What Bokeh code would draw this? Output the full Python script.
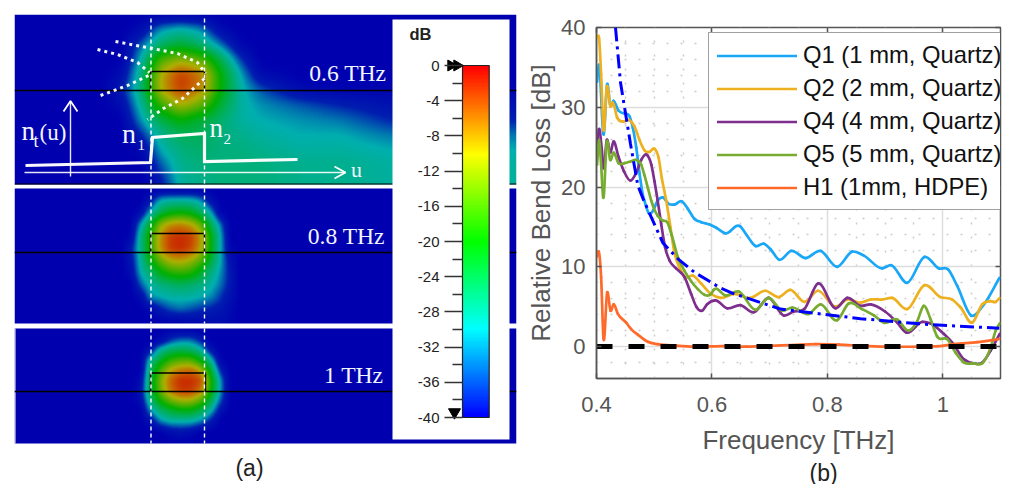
import numpy as np
from bokeh.embed import file_html
from bokeh.resources import INLINE
from bokeh.plotting import figure
from bokeh.core.properties import value
from bokeh.models import (Range1d, LinearAxis, FixedTicker, LinearColorMapper,
                          Legend, LegendItem, Title)

# ---------------- data: panel (b) ----------------
legend_labels = ["Q1 (1 mm, Quartz)", "Q2 (2 mm, Quartz)", "Q4 (4 mm, Quartz)",
                 "Q5 (5 mm, Quartz)", "H1 (1mm, HDPE)"]
colors = ["#1AA7F7", "#EDB120", "#7E2F8E", "#77AC30", "#FF6A2B"]

q1_f = [.401,.404,.4126,.4185,.4237,.4295,.438,.4485,.457,.463,.469,.475,.4803,.483,.4907,.4976,.506,.5149,.5248,.535,.548,.558,.570,.5814,.596,.6074,.6236,.6485,.661,.6756,.690,.7015,.716,.7374,.7622,.788,.817,.843,.8633,.895,.9107,.9385,.9685,.9933,1.009,1.025,1.049,1.0713,1.098]
q1_db = [33.2,35.3,26.6,32.9,30.3,30.8,29.6,29.2,28.9,27.4,24.9,21.5,19.0,18.3,16.7,17,18.3,18.7,17.9,17.8,18.2,17.3,16,15.6,15.3,14.9,14.2,15.1,13.9,12.6,12.9,12.2,10.9,12,11.1,12,10,11.9,11.4,9.8,10.2,8.0,11.25,9.8,9.7,7.6,3.9,5.3,8.6]
q2_f = [.401,.4045,.408,.4121,.4179,.4243,.4283,.4358,.4456,.457,.4658,.4745,.4832,.492,.5005,.5075,.5132,.5208,.5283,.535,.544,.5537,.567,.5814,.5976,.6147,.638,.6667,.6927,.716,.736,.7603,.7836,.8143,.8345,.8575,.875,.895,.9124,.9385,.9685,.996,1.0164,1.031,1.051,1.0685,1.083,1.0916,1.0986]
q2_db = [38.8,38.6,34.1,27.2,32.6,30.1,30.6,28.7,28.2,28.4,27.6,25.9,24.6,24.4,24.8,23.7,21.1,18.3,14.9,11.8,9.9,8.7,8.9,7.9,6.65,6.1,6.6,6.1,7,6.2,7.1,5.6,7,5,5.9,5.5,5.9,5.9,6.1,4.7,7.7,6.2,5.9,4.9,3,5.3,5.7,5.6,6.1]
q4_f = [.401,.404,.4092,.4121,.4179,.4237,.4295,.438,.4474,.459,.469,.4775,.488,.495,.5005,.506,.512,.519,.5265,.538,.5525,.564,.573,.583,.5916,.606,.6262,.6495,.6725,.6985,.7245,.742,.76,.7836,.8143,.8345,.8575,.875,.90,.921,.936,.9645,.979,1.0016,1.0164,1.0367,1.054,1.0685,1.083,1.0986]
q4_db = [24.9,27.2,24.7,22.4,25.9,24.3,25.7,23.8,22,20.8,21.8,23.4,24,22.8,20.7,18.3,15.4,12.4,10.8,9.8,8.7,6.6,5,4.5,5.3,5.8,4.8,5.2,4.3,6.1,3.9,4.4,4.7,7.9,4.8,6.1,5.1,5.3,4.4,3,1.8,3.1,2.9,1.6,.5,-1.6,-2.1,-2,-.5,1.6]
q5_f = [.401,.4045,.408,.4116,.4179,.4237,.4295,.438,.4485,.459,.469,.4775,.483,.4890,.4948,.506,.515,.5225,.5306,.541,.5525,.564,.5756,.587,.5987,.603,.6236,.6467,.6756,.6985,.7216,.739,.768,.788,.817,.837,.860,.8807,.8978,.921,.941,.9558,.967,.979,.990,1.008,1.0225,1.0367,1.054,1.0685,1.083,1.0916,1.0986]
q5_db = [22.8,25.9,22.8,18.7,25.7,23.4,24.3,23,23,23.2,23.4,22.8,21.5,19.9,18.3,16.4,15.8,15.6,13.9,11.2,9.5,8.2,7.2,6.5,6.6,7.1,6.4,6.9,4.6,6.1,4.5,4.9,4.1,5.3,3.3,5.4,4.7,3.9,3,3.4,2,3.2,5.1,3.4,1.3,.9,-.8,-2,-2.1,-2.1,-.1,2,2.9]
h1_f = [.401,.404,.408,.412,.4185,.4243,.4295,.437,.4514,.46,.4716,.489,.506,.541,.570,.6207,.66,.7,.74,.78,.82,.86,.9,.96,1.0,1.02,1.06,1.098]
h1_db = [11.3,11.9,8.7,1.1,6.8,4.5,5.3,4.1,3,2.2,1.5,.6,.3,.1,0,.05,0,.1,.2,.3,.25,.1,0,0,.1,.3,.55,.95]
fit_f = [.4329,.4416,.4589,.4716,.482,.515,.541,.570,.616,.637,.719,.8575,.9685,1.098]
fit_db = [40,33.1,25.4,20.2,18.3,13,11,9.3,7.3,6.65,4.7,3.5,2.8,2.3]
zero_f = [.4, 1.1]
zero_db = [0, 0]

x_ticks = [.4, .6, .8, 1.0]
x_tick_labels = ["0.4", "0.6", "0.8", "1"]
x_minor = [.45, .5, .55, .65, .7, .75, .85, .9, .95, 1.05]
y_ticks = [0, 10, 20, 30, 40]
y_minor = [-2, 2, 4, 6, 8, 12, 14, 16, 18, 22, 24, 26, 28, 32, 34, 36, 38]

# ---------------- data: panel (a) colour scale ----------------
db_ticks = [0, -4, -8, -12, -16, -20, -24, -28, -32, -36, -40]
db_minor = [-2, -6, -10, -14, -18, -22, -26, -30, -34, -38]
db_stops = [-40, -30, -20, -10, 0]
bright_rgb = [(0, 0, 255), (0, 255, 255), (0, 255, 0), (255, 255, 0), (255, 0, 0)]
field_stops = [-40, -35, -30, -20, -10, -5, 0]
field_rgb = [(0, 0, 175), (0, 30, 175), (0, 175, 175), (0, 175, 0), (175, 175, 0), (200, 100, 0), (200, 30, 0)]

# ---------------- data: panel (a) mode maps, dB ----------------
m1_x = [100,120,140,160,180,200,220,240,260,300,340,392]
m1_y = [14,29,44,59,74,89,104,119,134,149,164,183]
m1_db = [
 [-40,-40,-40,-40,-40,-40,-40,-40,-40,-40,-40,-40],
 [-40,-40,-38,-31,-29,-31,-38,-40,-40,-40,-40,-40],
 [-40,-40,-33,-26,-23,-26,-32,-39,-40,-40,-40,-40],
 [-40,-40,-30,-16,-12,-15,-24,-34,-40,-40,-40,-40],
 [-40,-38,-28,-10, -2, -6,-20,-30,-38,-40,-40,-40],
 [-40,-36,-27,-10, -2, -7,-20,-29,-33,-38,-39,-39],
 [-40,-38,-29,-17,-10,-14,-23,-29,-31,-33,-35,-37],
 [-40,-40,-31,-24,-20,-23,-26,-29,-30,-31,-32,-35],
 [-40,-40,-35,-28,-25,-25,-27,-28,-29,-30,-30,-32],
 [-40,-40,-39,-30,-27,-26,-27,-27,-28,-29,-29,-30],
 [-40,-40,-40,-33,-28,-27,-27,-27,-27,-28,-28,-29],
 [-40,-40,-40,-36,-29,-28,-27,-27,-27,-28,-28,-29],
]
m2_x = [130,140,150,160,170,180,190,200,210,220,230,240]
m2_y = [188,200,212,224,236,248,260,272,284,296,308,323]
m2_db = [
 [-40,-40,-40,-40,-40,-40,-40,-40,-40,-40,-40,-40],
 [-40,-40,-36,-30,-29,-29,-29,-31,-37,-40,-40,-40],
 [-40,-38,-30,-24,-21,-20,-21,-25,-30,-39,-40,-40],
 [-40,-31,-22,-12, -8, -7, -9,-14,-24,-32,-40,-40],
 [-39,-28,-18, -8, -2, -1, -2, -8,-20,-30,-40,-40],
 [-36,-28,-18, -8, -2, -1, -3, -9,-20,-30,-39,-40],
 [-37,-29,-21,-14,-10, -9,-11,-15,-23,-30,-37,-40],
 [-38,-30,-26,-21,-18,-17,-18,-22,-27,-31,-36,-40],
 [-40,-33,-29,-27,-26,-25,-26,-27,-29,-32,-36,-40],
 [-40,-38,-31,-30,-29,-29,-29,-30,-31,-34,-37,-40],
 [-40,-40,-38,-35,-33,-32,-33,-34,-35,-36,-38,-40],
 [-40,-40,-40,-40,-40,-40,-39,-39,-38,-38,-39,-40],
]
m3_x = [140,150,160,170,180,190,200,210,220,230]
m3_y = [328,340,350,360,370,380,390,400,410,420,432,443]
m3_db = [
 [-40,-40,-40,-40,-40,-40,-40,-40,-40,-40],
 [-40,-40,-38,-34,-32,-32,-35,-40,-40,-40],
 [-40,-36,-28,-25,-24,-25,-28,-36,-40,-40],
 [-40,-28,-22,-17,-15,-15,-20,-28,-39,-40],
 [-40,-25,-16, -9, -6, -5, -9,-22,-35,-40],
 [-38,-24,-13, -5, -1, -1, -3,-18,-31,-40],
 [-37,-24,-14, -6, -2, -2, -6,-19,-31,-40],
 [-38,-27,-19,-14,-11,-11,-15,-24,-33,-40],
 [-40,-31,-26,-23,-21,-21,-24,-29,-37,-40],
 [-40,-37,-31,-29,-29,-29,-31,-35,-40,-40],
 [-40,-40,-40,-38,-37,-38,-40,-40,-40,-40],
 [-40,-40,-40,-40,-40,-40,-40,-40,-40,-40],
]
panels = [("0.6 THz", 14, 184, m1_x, m1_y, m1_db, 4),
          ("0.8 THz", 188, 323, m2_x, m2_y, m2_db, 2),
          ("1 THz", 328, 443, m3_x, m3_y, m3_db, 2)]

# annotation sketches in panel (a), in picture coordinates
profile_x = [25, 150, 152, 204, 204, 297]
profile_y = [165, 162, 137, 133, 161, 159]
dot1_x = [115, 152, 177, 197, 205]
dot1_y = [41, 48, 53, 62, 73]
dot2_x = [204, 182, 163, 147]
dot2_y = [78, 98, 108, 119]
dot3_x = [97, 117, 137, 149]
dot3_y = [49, 54, 62, 72]
dot4_x = [148, 127, 100]
dot4_y = [75, 85, 95]


def hexes(stops, rgb):
    lv = np.linspace(stops[0], stops[-1], 256)
    chans = [np.interp(lv, stops, [c[i] for c in rgb]) for i in range(3)]
    return ["#%02x%02x%02x" % (int(r), int(g), int(b)) for r, g, b in zip(*chans)]


def render_field(xs, ys, grid, top, bottom, blur):
    g = np.array(grid, dtype=float)
    # the map falls to the floor level just left of the read-off window
    xs = [xs[0] - 10] + list(xs)
    g = np.hstack([np.full((g.shape[0], 1), -40.0), g])
    px = np.arange(14, 516) + .5
    py = np.arange(top, bottom) + .5
    a = np.array([np.interp(px, xs, r) for r in g])
    b = np.array([np.interp(py, ys, c) for c in a.T]).T
    k = np.ones(2 * blur + 1) / (2 * blur + 1)
    for _ in range(2):
        b = np.apply_along_axis(lambda v: np.convolve(np.pad(v, blur, mode="edge"), k, "valid"), 0, b)
        b = np.apply_along_axis(lambda v: np.convolve(np.pad(v, blur, mode="edge"), k, "valid"), 1, b)
    return np.flipud(b)


def smooth_line(fig, xs, ys, color, width):
    """Draw a read-off curve through its points as cubic segments."""
    x = np.asarray(xs, dtype=float)
    y = np.asarray(ys, dtype=float)
    slope = np.gradient(y, x)
    dx = np.diff(x) / 3
    return fig.bezier(x[:-1], y[:-1], x[1:], y[1:],
                      x[:-1] + dx, y[:-1] + slope[:-1] * dx,
                      x[1:] - dx, y[1:] - slope[1:] * dx,
                      line_color=color, line_width=width, line_cap="round")


W_A, H = 520, 484
FT, FB = 14, 484   # frame top / bottom in picture pixels
BASELINE_SHIFT = 0.42   # the text glyph sits this many ems below the given y


def Y(v):
    return FT + FB - np.asarray(v, dtype=float)


a = figure(width=W_A, height=H, output_backend="svg", toolbar_location=None,
           x_axis_type=None, y_axis_type=None,
           x_range=Range1d(14, 516), y_range=Range1d(FT, FB),
           min_border_left=14, min_border_right=4, min_border_top=14, min_border_bottom=0,
           outline_line_color=None, background_fill_color="white", border_fill_color="white")

field_map = LinearColorMapper(palette=hexes(field_stops, field_rgb), low=-40, high=0)
bright_map = LinearColorMapper(palette=hexes(db_stops, bright_rgb), low=-40, high=0)

for label, top, bottom, xs, ys, grid, blur in panels:
    f = render_field(xs, ys, grid, top, bottom, blur)
    a.image(image=[f], x=14, y=float(Y(bottom)), dw=502, dh=bottom - top, color_mapper=field_map)

# black rules and mode boxes
a.line([14, 516], Y([183.5, 183.5]), color="black", line_width=1)
a.quad(left=[14], right=[15], top=[float(Y(328))], bottom=[float(Y(443))], color="white", line_width=0)
for base, top_box, x1 in [(90, 71, 204), (252, 233, 204), (391, 372.5, 205)]:
    a.line([14, 516], Y([base, base]), color="black", line_width=1.6)
    a.line([150, 150, x1, x1], Y([base, top_box, top_box, base]), color="black", line_width=1.4)

# white card behind the colour scale
a.quad(left=[392], right=[509], top=[float(Y(19))], bottom=[float(Y(439))], color="white", line_width=0)

# white dashed core edges
for xv in (150.5, 204):
    for top, bottom in [(18, 183), (188, 323), (328, 443)]:
        a.line([xv, xv], Y([top, bottom]), color="white", line_width=1.4, line_dash="4 3")

for xs, ys in [(dot1_x, dot1_y), (dot2_x, dot2_y), (dot3_x, dot3_y), (dot4_x, dot4_y)]:
    a.line(xs, Y(ys), color="white", line_width=3, line_dash="3 4", alpha=.95)

a.line(profile_x, Y(profile_y), color="white", line_width=3.2, line_join="miter", alpha=.97)
a.line([24, 345], Y([172, 172]), color="white", line_width=1.4, alpha=.9)
a.line([334, 345, 334], Y([166, 172, 178]), color="white", line_width=1.8)
a.line([70, 70], Y([176, 101]), color="white", line_width=1.4, alpha=.9)
a.line([63, 70, 77], Y([111, 100.5, 111]), color="white", line_width=1.8)


def put_text(x, y, text, size, align="left", color="#F2F5FF", font="Liberation Serif", style="normal"):
    a.text([x], [float(Y(y - BASELINE_SHIFT * size))], text=[text], text_font=value(font),
           text_font_style=style, text_font_size=f"{size}px", text_color=color,
           text_align=align, text_baseline="alphabetic")


for (label, rx, by) in [("0.6 THz", 386, 82.7), ("0.8 THz", 384.5, 245), ("1 THz", 383, 384.3)]:
    put_text(rx, by, label, 23.6, "right")
put_text(21, 141.7, "n", 27); put_text(33, 148, "t", 18); put_text(39, 141.7, "(u)", 23)
put_text(121.5, 145, "n", 28); put_text(137, 150.7, "1", 15)
put_text(209, 139, "n", 27); put_text(223, 145, "2", 15)
put_text(350.5, 178, "u", 22)

# colour scale, on its own dB scale
PX_PER_DB = (417 - 65) / 40
a.extra_y_ranges["db"] = Range1d(-(FB - 65) / PX_PER_DB, (65 - FT) / PX_PER_DB)
a.image(image=[np.linspace(-40, 0, 352).reshape(-1, 1)], x=462, y=-40, dw=26.7, dh=40,
        color_mapper=bright_map, y_range_name="db")
a.quad(left=[462], right=[488.7], top=[0], bottom=[-40], fill_color=None,
       line_color="#222222", line_width=1.2, y_range_name="db")
db_axis = LinearAxis(y_range_name="db", fixed_location=462,
                     ticker=FixedTicker(ticks=db_ticks, minor_ticks=db_minor),
                     major_label_overrides={t: str(t) for t in db_ticks},
                     axis_line_color=None, major_tick_in=0, major_tick_out=18,
                     minor_tick_in=0, minor_tick_out=10,
                     major_tick_line_color="#333333", minor_tick_line_color="#333333",
                     major_tick_line_width=1.4, minor_tick_line_width=1.4,
                     major_label_standoff=5, major_label_text_font="Liberation Sans",
                     major_label_text_font_size="15px", major_label_text_color="#222222")
a.add_layout(db_axis, "left")
a.scatter([450.5, 456.5], [0, 0], marker="triangle", size=11, angle=-np.pi / 2,
          color="black", y_range_name="db")
a.scatter([454], [.6 - 40 + .0], marker="inverted_triangle", size=12, color="black", y_range_name="db")
put_text(409, 40.5, "dB", 16.5, color="#222222", font="Liberation Sans", style="bold")
put_text(249, 477, "(a)", 23, "center", color="#222222", font="Liberation Sans")

# ---------------- panel (b) ----------------
W_B = 490
AX = "#555555"
b = figure(width=W_B, height=H, output_backend="svg", toolbar_location=None,
           x_range=Range1d(.4, 1.1), y_range=Range1d(-4, 40),
           frame_width=404, frame_height=351,
           min_border_left=76, min_border_right=10, min_border_top=27, min_border_bottom=106,
           x_axis_label="Frequency [THz]", y_axis_label="Relative Bend Loss [dB]",
           outline_line_color=AX, outline_line_width=1.5,
           background_fill_color="white", border_fill_color=None,
           styles={"position": "absolute", "left": "520px", "top": "0px"})
xt = FixedTicker(ticks=x_ticks, minor_ticks=x_minor)
yt = FixedTicker(ticks=y_ticks, minor_ticks=y_minor)
b.xaxis.ticker = xt
b.yaxis.ticker = yt
b.xaxis.major_label_overrides = dict(zip(x_ticks, x_tick_labels))
for ax in (b.xaxis[0], b.yaxis[0]):
    ax.axis_line_color = AX
    ax.axis_line_width = 1.5
    ax.major_tick_in = 5
    ax.major_tick_out = 0
    ax.minor_tick_in = 0
    ax.minor_tick_out = 0
    ax.major_tick_line_color = AX
    ax.major_tick_line_width = 1.5
    ax.major_label_text_font = "Liberation Sans"
    ax.major_label_text_font_size = "22px"
    ax.major_label_text_color = AX
    ax.axis_label_text_font = "Liberation Sans"
    ax.axis_label_text_font_size = "26px"
    ax.axis_label_text_font_style = "normal"
    ax.axis_label_text_color = AX
b.xaxis[0].major_label_standoff = 18
b.xaxis[0].axis_label_standoff = 10
b.yaxis[0].major_label_standoff = 11
b.yaxis[0].axis_label_standoff = 2
for g in (b.xgrid[0], b.ygrid[0]):
    g.grid_line_color = "#DDDDDD"
    g.grid_line_width = 1.5
    g.minor_grid_line_color = "#CCCCCC"
    g.minor_grid_line_width = 1.5
    g.minor_grid_line_dash = "2 12"
top_ax = LinearAxis(ticker=xt, major_label_overrides={t: "" for t in x_ticks}, axis_line_color=None,
                    major_tick_in=5, major_tick_out=0, minor_tick_in=0, minor_tick_out=0,
                    major_tick_line_color=AX, major_tick_line_width=1.5)
right_ax = LinearAxis(ticker=yt, major_label_overrides={t: "" for t in y_ticks}, axis_line_color=None,
                      major_tick_in=5, major_tick_out=0, minor_tick_in=0, minor_tick_out=0,
                      major_tick_line_color=AX, major_tick_line_width=1.5)
b.add_layout(top_ax, "above")
b.add_layout(right_ax, "right")

renderers = []
for fx, fy, c in zip((q1_f, q2_f, q4_f, q5_f, h1_f), (q1_db, q2_db, q4_db, q5_db, h1_db), colors):
    renderers.append(smooth_line(b, fx, fy, c, 2.7))
b.line(fit_f, fit_db, color="#0000FF", line_width=3, line_dash="14 5 3 5")
b.line(zero_f, zero_db, color="black", line_width=5, line_dash="16 16")

legend = Legend(items=[LegendItem(label=l, renderers=[r]) for l, r in zip(legend_labels, renderers)],
                location=(112, 168), orientation="vertical", glyph_width=80, glyph_height=23,
                label_height=23, label_standoff=6, spacing=5, padding=8, margin=0,
                label_text_font="Liberation Sans", label_text_font_size="23.8px",
                label_text_color="#111111", border_line_color="#444444",
                border_line_width=1.5, background_fill_color="white", background_fill_alpha=1)
b.add_layout(legend)
b.add_layout(Title(text="(b)", align="left", offset=213, text_font="Liberation Sans",
                   text_font_size="23px", text_font_style="normal", text_color="#222222",
                   text_line_height=0.85, standoff=0), "below")

open("out.html", "w").write(file_html([a, b], INLINE))
